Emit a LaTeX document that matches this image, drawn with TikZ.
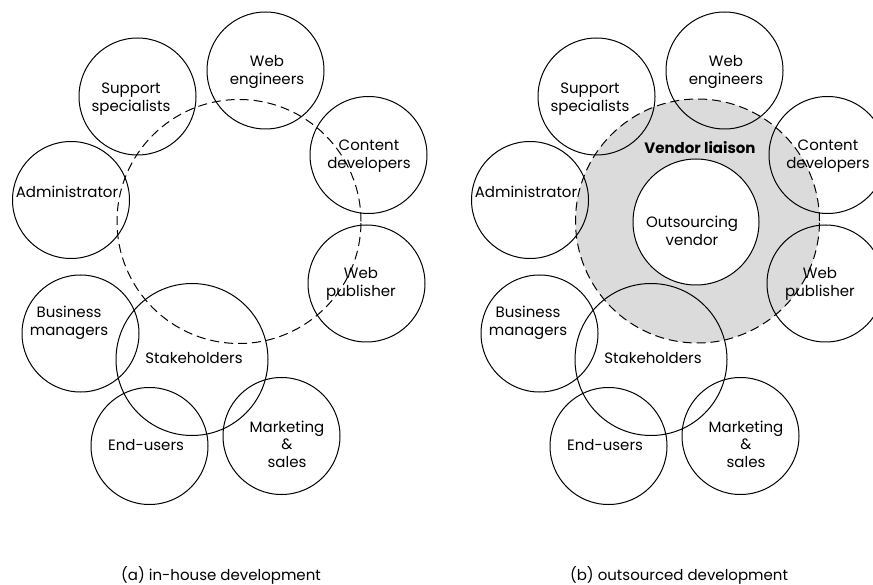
\documentclass[tikz,border=0pt]{standalone}
\usepackage{fontspec}
\setmainfont{Poppins}
\usetikzlibrary{calc}

% The nine role circles and their labels, shared by both panels
\newcommand\rolecircles{%
  \node[actor] (sup) at (137.5,96.5) {};
  \node[lbl] (sup-t) at (131,99) {Support\\specialists};
  \node[actor] (web) at (265.5,70.5) {};
  \node[lbl] (web-t) at (267,72) {Web\\engineers};
  \node[actor] (con) at (368.5,155) {};
  \node[lbl] (con-t) at (369,156) {Content\\developers};
  \node[actor] (adm) at (71,200) {};
  \node[lbl] (adm-t) at (67,192) {Administrator};
  \node[actor] (pub) at (366.5,283.5) {};
  \node[lbl] (pub-t) at (361,284) {Web\\publisher};
  \node[actor] (bus) at (80.5,333.5) {};
  \node[lbl] (bus-t) at (69,323) {Business\\managers};
  \node[hub] (stk) at (192,359.5) {};
  \node[lbl] (stk-t) at (194,358) {Stakeholders};
  \node[actor] (end) at (149.5,446) {};
  \node[lbl] (end-t) at (146,445) {End-users};
  \node[actor] (mkt) at (281.5,436) {};
  \node[lbl] (mkt-t) at (287,444) {Marketing\\\&\\sales};
}

\begin{document}
\begin{tikzpicture}[x=1pt,y=-1pt,
  actor/.style={circle, draw, line width=1pt, minimum size=117pt, inner sep=0pt},
  hub/.style={circle, draw, line width=1pt, minimum size=152pt, inner sep=0pt},
  vendorbox/.style={circle, draw, fill=white, line width=1pt, minimum size=126pt, inner sep=0pt},
  ring/.style={circle, draw, dash pattern=on 9pt off 5pt, line width=1pt, minimum size=244pt, inner sep=0pt},
  lbl/.style={align=center, font=\fontsize{15}{17.5}\selectfont, inner sep=0pt},
  captext/.style={font=\fontsize{15}{17}\selectfont, inner sep=0pt}]
\useasboundingbox (0,0) rectangle (873,585);

% (a) in-house development
\begin{scope}[name prefix=a-]
  \rolecircles
  \node[ring] (ring) at (239,221.5) {};
  \node[captext] (caption) at (221,575) {(a) in-house development};
\end{scope}

% (b) outsourced development
\begin{scope}[xshift=459pt, name prefix=b-]
  \fill[black!14] (238.5,221) circle [radius=122];
  \node[vendorbox] (ven) at (237,222) {};
  \node[lbl] (ven-t) at (233,231) {Outsourcing\\vendor};
  \rolecircles
  \node[ring] (ring) at (238.5,221) {};
  \node[lbl, font=\fontsize{15}{17.5}\selectfont\bfseries] (liaison) at (241,148) {Vendor liaison};
  \node[captext] (caption) at (220,575) {(b) outsourced development};
\end{scope}
\end{tikzpicture}
\end{document}
